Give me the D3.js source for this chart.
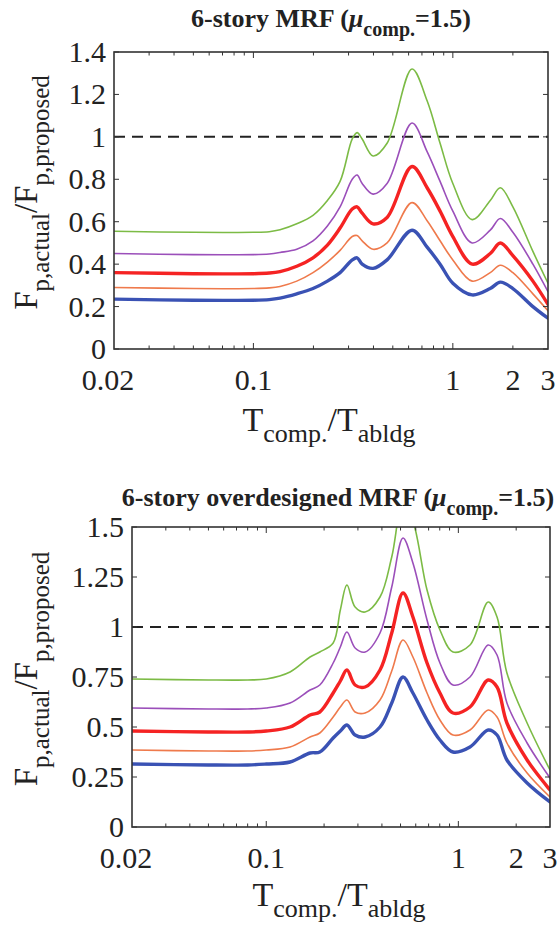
<!DOCTYPE html>
<html>
<head>
<meta charset="utf-8">
<script src="https://cdn.jsdelivr.net/npm/d3@7"></script>
<style>
  body { margin: 0; background: #fff; }
  svg { display: block; }
  text { font-family: "Liberation Serif", "Times New Roman", serif; fill: #222; }
</style>
</head>
<body>
<svg id="chart" width="559" height="926"></svg>
<script>
// Period ratio T_comp./T_abldg sampled along each curve
const periodTop = [0.02, 0.05, 0.1, 0.12, 0.136, 0.165, 0.199, 0.235, 0.272, 0.313, 0.331, 0.351,
                   0.398, 0.468, 0.624, 0.743, 0.863, 1.0, 1.25, 1.54, 1.73, 2.0, 2.52, 3.0];
const greenTop  = [0.555, 0.55, 0.55, 0.553, 0.562, 0.59, 0.63, 0.70, 0.79, 0.99, 1.02, 0.99,
                   0.91, 0.97, 1.32, 1.17, 0.97, 0.78, 0.61, 0.70, 0.76, 0.67, 0.46, 0.31];
const purpleTop = [0.45, 0.445, 0.445, 0.448, 0.455, 0.47, 0.51, 0.58, 0.67, 0.80, 0.82, 0.78,
                   0.73, 0.78, 1.065, 0.93, 0.79, 0.65, 0.50, 0.56, 0.615, 0.55, 0.40, 0.27];
const redTop    = [0.36, 0.355, 0.355, 0.358, 0.365, 0.39, 0.43, 0.49, 0.57, 0.66, 0.67, 0.64,
                   0.59, 0.62, 0.86, 0.76, 0.65, 0.53, 0.40, 0.45, 0.50, 0.44, 0.32, 0.21];
const orangeTop = [0.29, 0.285, 0.285, 0.288, 0.295, 0.32, 0.36, 0.41, 0.465, 0.53, 0.535, 0.51,
                   0.47, 0.50, 0.69, 0.605, 0.51, 0.42, 0.32, 0.36, 0.395, 0.36, 0.26, 0.18];
const blueTop   = [0.235, 0.23, 0.23, 0.233, 0.24, 0.26, 0.285, 0.32, 0.36, 0.42, 0.43, 0.40,
                   0.38, 0.42, 0.56, 0.48, 0.40, 0.31, 0.255, 0.285, 0.315, 0.285, 0.20, 0.145];

const periodBottom = [0.02, 0.05, 0.08, 0.1, 0.133, 0.169, 0.19, 0.223, 0.243, 0.263, 0.29, 0.327,
                      0.391, 0.45, 0.515, 0.58, 0.687, 0.802, 0.938, 1.15, 1.43, 1.59, 1.79, 2.28, 3.0];
const greenBottom  = [0.74, 0.735, 0.735, 0.74, 0.775, 0.85, 0.875, 0.92, 1.085, 1.21, 1.10, 1.075,
                      1.15, 1.35, 1.62, 1.53, 1.185, 0.985, 0.875, 0.91, 1.125, 1.05, 0.77, 0.52, 0.285];
const purpleBottom = [0.595, 0.59, 0.59, 0.595, 0.62, 0.685, 0.71, 0.82, 0.90, 0.975, 0.895, 0.875,
                      0.97, 1.20, 1.445, 1.32, 1.035, 0.82, 0.71, 0.75, 0.91, 0.86, 0.62, 0.42, 0.245];
const redBottom    = [0.48, 0.475, 0.475, 0.48, 0.50, 0.56, 0.575, 0.67, 0.73, 0.785, 0.71, 0.70,
                      0.785, 0.97, 1.17, 1.05, 0.82, 0.67, 0.57, 0.60, 0.735, 0.70, 0.52, 0.335, 0.185];
const orangeBottom = [0.385, 0.38, 0.38, 0.385, 0.40, 0.45, 0.47, 0.55, 0.60, 0.635, 0.575, 0.57,
                      0.635, 0.78, 0.935, 0.85, 0.67, 0.535, 0.46, 0.485, 0.585, 0.55, 0.42, 0.27, 0.15];
const blueBottom   = [0.315, 0.31, 0.31, 0.315, 0.325, 0.37, 0.375, 0.445, 0.48, 0.51, 0.46, 0.45,
                      0.50, 0.62, 0.75, 0.67, 0.535, 0.435, 0.375, 0.40, 0.485, 0.46, 0.335, 0.22, 0.125];

// Axis ticks
const xTickValues = [0.02, 0.1, 1, 2, 3];
const xTickLabels = ["0.02", "0.1", "1", "2", "3"];
const yTickValuesTop = [0, 0.2, 0.4, 0.6, 0.8, 1, 1.2, 1.4];
const yTickLabelsTop = ["0", "0.2", "0.4", "0.6", "0.8", "1", "1.2", "1.4"];
const yTickValuesBottom = [0, 0.25, 0.5, 0.75, 1, 1.25, 1.5];
const yTickLabelsBottom = ["0", "0.25", "0.5", "0.75", "1", "1.25", "1.5"];
const referenceLevel = 1;

// Line styles per series
const styles = {
  green:  { color: "#7cbb45", width: 1.6 },
  purple: { color: "#9b4fba", width: 1.6 },
  orange: { color: "#ef7a4c", width: 1.6 },
  red:    { color: "#f52323", width: 3.4 },
  blue:   { color: "#3a52b4", width: 3.4 }
};

const svg = d3.select("#chart");

function drawPanel(cfg) {
  const x = d3.scaleLog().domain([0.02, 3]).range([cfg.left, cfg.right]);
  const y = d3.scaleLinear().domain([0, cfg.yMax]).range([cfg.bottom, cfg.top]);
  const g = svg.append("g");

  const clipId = "clip" + cfg.id;
  svg.append("defs").append("clipPath").attr("id", clipId)
    .append("rect")
    .attr("x", cfg.left).attr("y", cfg.top)
    .attr("width", cfg.right - cfg.left).attr("height", cfg.bottom - cfg.top);

  const plot = g.append("g").attr("clip-path", `url(#${clipId})`);

  // dashed reference line at ratio = 1
  plot.append("line")
    .attr("x1", x(0.02)).attr("x2", x(3))
    .attr("y1", y(referenceLevel)).attr("y2", y(referenceLevel))
    .attr("stroke", "#222").attr("stroke-width", 2)
    .attr("stroke-dasharray", "11,7");

  const line = d3.line()
    .x(d => x(d[0])).y(d => y(d[1]))
    .curve(d3.curveCatmullRom.alpha(0.5));

  cfg.series.forEach(s => {
    const pts = cfg.period.map((p, i) => [p, s.values[i]]);
    plot.append("path")
      .attr("d", line(pts))
      .attr("fill", "none")
      .attr("stroke", styles[s.name].color)
      .attr("stroke-width", styles[s.name].width)
      .attr("stroke-linejoin", "round")
      .attr("stroke-linecap", "round");
  });

  // ticks (inward, mirrored on opposite sides)
  const tickG = g.append("g").attr("stroke", "#333").attr("stroke-width", 1);
  const minor = [];
  [0.01, 0.1, 1].forEach(dec => {
    for (let k = 2; k <= 9; k++) {
      const v = k * dec;
      if (v > 0.02 && v < 3) minor.push(v);
    }
  });
  const majorX = [0.1, 1];
  minor.forEach(v => {
    tickG.append("line").attr("x1", x(v)).attr("x2", x(v)).attr("y1", cfg.bottom).attr("y2", cfg.bottom - 3.5);
    tickG.append("line").attr("x1", x(v)).attr("x2", x(v)).attr("y1", cfg.top).attr("y2", cfg.top + 3.5);
  });
  majorX.forEach(v => {
    tickG.append("line").attr("x1", x(v)).attr("x2", x(v)).attr("y1", cfg.bottom).attr("y2", cfg.bottom - 6);
    tickG.append("line").attr("x1", x(v)).attr("x2", x(v)).attr("y1", cfg.top).attr("y2", cfg.top + 6);
  });
  cfg.yTicks.forEach(v => {
    tickG.append("line").attr("x1", cfg.left).attr("x2", cfg.left + 5).attr("y1", y(v)).attr("y2", y(v));
    tickG.append("line").attr("x1", cfg.right).attr("x2", cfg.right - 5).attr("y1", y(v)).attr("y2", y(v));
  });

  // frame
  g.append("rect")
    .attr("x", cfg.left).attr("y", cfg.top)
    .attr("width", cfg.right - cfg.left).attr("height", cfg.bottom - cfg.top)
    .attr("fill", "none").attr("stroke", "#333").attr("stroke-width", 1.6);

  // tick labels
  xTickValues.forEach((v, i) => {
    g.append("text")
      .attr("x", x(v)).attr("dx", i === 0 ? -6 : 0)
      .attr("y", cfg.bottom + 41)
      .attr("text-anchor", "middle")
      .attr("font-size", 30)
      .text(xTickLabels[i]);
  });
  cfg.yTicks.forEach((v, i) => {
    g.append("text")
      .attr("x", cfg.left - 8).attr("y", y(v) + 10)
      .attr("text-anchor", "end")
      .attr("font-size", 30)
      .text(cfg.yLabels[i]);
  });

  // x axis title
  const xt = g.append("text")
    .attr("x", (cfg.left + cfg.right) / 2 - 2)
    .attr("y", cfg.bottom + cfg.xTitleGap)
    .attr("text-anchor", "middle")
    .attr("font-size", 34);
  xt.append("tspan").text("T");
  xt.append("tspan").attr("font-size", 26).attr("dy", 11).text("comp.");
  xt.append("tspan").attr("dy", -11).text("/T");
  xt.append("tspan").attr("font-size", 26).attr("dy", 11).text("abldg");

  // y axis title
  const cy = (cfg.top + cfg.bottom) / 2 - 8;
  const yt = g.append("text")
    .attr("transform", `translate(37,${cy}) rotate(-90)`)
    .attr("text-anchor", "middle")
    .attr("font-size", 33);
  yt.append("tspan").text("F");
  yt.append("tspan").attr("font-size", 25).attr("dy", 12).text("p,actual");
  yt.append("tspan").attr("dy", -12).text("/F");
  yt.append("tspan").attr("font-size", 25).attr("dy", 12).text("p,proposed");

  // panel title
  const tt = g.append("text")
    .attr("x", cfg.titleX).attr("y", cfg.titleY)
    .attr("text-anchor", "middle")
    .attr("font-size", 26).attr("font-weight", "bold");
  tt.append("tspan").text(cfg.title + " (");
  tt.append("tspan").attr("font-style", "italic").text("\u03bc");
  tt.append("tspan").attr("font-size", 20).attr("dy", 9).text("comp.");
  tt.append("tspan").attr("dy", -9).text("=1.5)");
}

drawPanel({
  id: "Top", left: 114, right: 548, top: 52, bottom: 349, yMax: 1.4,
  yTicks: yTickValuesTop, yLabels: yTickLabelsTop,
  title: "6-story MRF", titleX: 331, titleY: 27, xTitleGap: 82,
  period: periodTop,
  series: [
    { name: "green", values: greenTop },
    { name: "purple", values: purpleTop },
    { name: "orange", values: orangeTop },
    { name: "red", values: redTop },
    { name: "blue", values: blueTop }
  ]
});

drawPanel({
  id: "Bottom", left: 132, right: 550, top: 527, bottom: 827, yMax: 1.5,
  yTicks: yTickValuesBottom, yLabels: yTickLabelsBottom,
  title: "6-story overdesigned MRF", titleX: 338, titleY: 506, xTitleGap: 79,
  period: periodBottom,
  series: [
    { name: "green", values: greenBottom },
    { name: "purple", values: purpleBottom },
    { name: "orange", values: orangeBottom },
    { name: "red", values: redBottom },
    { name: "blue", values: blueBottom }
  ]
});
</script>
</body>
</html>
